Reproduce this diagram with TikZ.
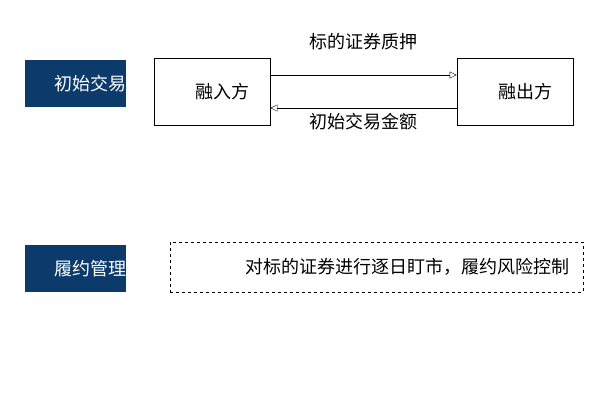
\documentclass[tikz,border=0pt]{standalone}
\usepackage{fontspec}
\setmainfont{Noto Sans CJK SC}
\usetikzlibrary{arrows.meta}
\definecolor{navy}{HTML}{0B3A6B}
\begin{document}
\begin{tikzpicture}[x=1pt,y=-1pt]
        \tikzset{
          >={Triangle[open,length=7pt,width=7pt]},
          every node/.style={font=\fontsize{18}{20}\selectfont},
          stagebox/.style={fill=navy, text=white, minimum width=101pt,
            minimum height=47pt, align=right, text width=101pt, inner sep=0pt},
          partybox/.style={draw, thick, minimum width=116pt, minimum height=67pt},
        }
        \useasboundingbox (0,0) rectangle (607,400);
        \node[stagebox] (init) at (75.5,83.5) {初始交易};
        \node[stagebox] (perf) at (75.5,268.5) {履约管理};
        \node[partybox] (borrower) at (212,91.5) {\hspace*{20pt}融入方};
        \node[partybox] (lender) at (515,91.5) {\hspace*{20pt}融出方};
        \coordinate (b1) at (borrower.east |- 0,75);
        \coordinate (l1) at (lender.west |- 0,75);
        \coordinate (b2) at (borrower.east |- 0,108);
        \coordinate (l2) at (lender.west |- 0,108);
        \draw[->] (b1) -- node[above=22pt]{标的证券质押} (l1);
        \draw[->] (l2) -- node[below=2pt]{初始交易金额} (b2);
        \node[draw, thick, dashed, minimum width=413pt, minimum height=50pt,
          text width=385pt, align=right] (risk) at (376.5,267)
          {对标的证券进行逐日盯市，履约风险控制};
      \end{tikzpicture}
\end{document}
